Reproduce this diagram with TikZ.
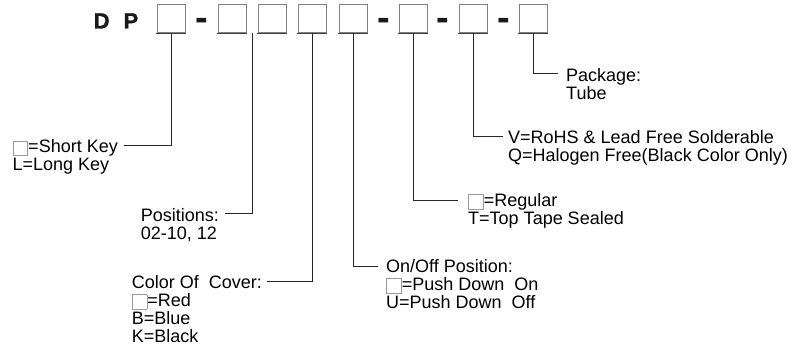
\documentclass[tikz,border=0pt]{standalone}
\usepackage{fontspec}
\setmainfont{Liberation Sans}
\usepackage{xcolor}
\usetikzlibrary{
    calc
}

% small empty key square used inside the texts
\newcommand{\emptykey}{\textcolor{black!40}{\fboxsep=0pt\fboxrule=0.8pt\raisebox{-2.5pt}{\fbox{\rule{0pt}{13.5pt}\rule{14pt}{0pt}}}}}
% lines of an option text, baseline at the first line
\newcommand{\optlist}[1]{\vtop{\halign{##\hfil\cr#1\crcr}}}

\begin{document}
\begin{tikzpicture}[
    x=1pt, y=-1pt,
    key/.style={
        rectangle,
        draw=black!50,
        line width=1pt,
        minimum size=28pt,
        inner sep=0pt,
        fill=white
    },
    keybase/.style={
        draw=black!75,
        line width=1.8pt
    },
    title/.style={
        font=\fontsize{22}{22}\selectfont\bfseries\addfontfeature{FakeBold=1.2},
        inner sep=0pt,
        text=black!90
    },
    hyphenmark/.style={
        font=\fontsize{38}{38}\selectfont\bfseries,
        inner sep=0pt,
        text=black!90
    },
    desc/.style={
        font=\fontsize{18}{18}\selectfont,
        inner sep=0pt
    },
    wire/.style={
        draw=black!85,
        line width=0.8pt
    }
]
\useasboundingbox (0,0) rectangle (798,350);

% =========================================================
% Part number: D P [] - [][][][] - [] - [] - []
% =========================================================
\node[title, anchor=base west] (dp) at (93.5,28.5) {D\hspace{14pt}P};

\foreach \n/\x in {1/171.7, 2/232, 3/272, 4/312, 5/353, 6/413, 7/473, 8/533}
    \node[key] (k\n) at (\x,19) {};

\foreach \n in {1,...,8}
    \draw[keybase] ([xshift=-1pt]k\n.south west) -- (k\n.south east);

\node[hyphenmark, anchor=base] (d1) at (202,30.4) {-};
\node[hyphenmark, anchor=base] (d2) at (384,30.4) {-};
\node[hyphenmark, anchor=base] (d3) at (443,30.4) {-};
\node[hyphenmark, anchor=base] (d4) at (504,30.4) {-};

% =========================================================
% Option descriptions
% =========================================================
\node[desc, anchor=base east] (keylen) at (118,153)
{\optlist{\emptykey=Short Key\cr L=Long Key}};

\node[desc, anchor=base east] (positions) at (219,221)
{\optlist{Positions:\cr 02-10, 12}};

\node[desc, anchor=base east] (cover) at (262,288)
{\optlist{Color Of~ Cover:\cr \emptykey=Red\cr B=Blue\cr K=Black}};

\node[desc, anchor=base west] (onoff) at (386,272)
{\optlist{On/Off Position:\cr \emptykey=Push Down~ On\cr U=Push Down~ Off}};

\node[desc, anchor=base west] (sealing) at (468,206)
{\optlist{\emptykey=Regular\cr T=Top Tape Sealed}};

\node[desc, anchor=base west] (rohs) at (508,143)
{\optlist{V=RoHS \& Lead Free Solderable\cr Q=Halogen Free(Black Color Only)}};

\node[desc, anchor=base west] (package) at (566,81.5)
{\optlist{Package:\cr Tube}};

% =========================================================
% Connectors
% =========================================================
\draw[wire] (k1.south) |- ([xshift=6pt,yshift=8pt]keylen.base east);
\draw[wire] ($(k2.south east)!0.5!(k3.south west)$) |- ([xshift=6pt,yshift=8pt]positions.base east);
\draw[wire] (k4.south) |- ([xshift=5pt,yshift=7pt]cover.base east);
\draw[wire] (k5.south) |- ([xshift=-8pt,yshift=5.5pt]onoff.base west);
\draw[wire] (k6.south) |- ([xshift=-10pt,yshift=6pt]sealing.base west);
\draw[wire] (k7.south) |- ([xshift=-5pt,yshift=6.5pt]rohs.base west);
\draw[wire] (k8.south) |- ([xshift=-8pt,yshift=8.5pt]package.base west);

\end{tikzpicture}
\end{document}
